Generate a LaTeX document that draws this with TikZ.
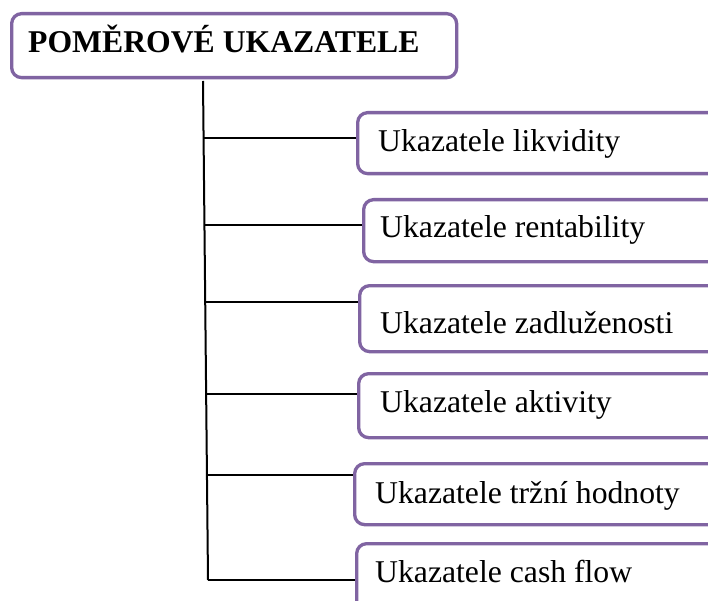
\documentclass[tikz,border=0pt]{standalone}
\usepackage{fontspec}
\setmainfont{Liberation Serif}
\definecolor{boxpurple}{HTML}{8064A2}
\tikzset{
  ubox/.style={draw=boxpurple, line width=3.3pt, rounded corners=10pt, fill=white, inner sep=0pt, anchor=north west},
  lbl/.style={anchor=base west, inner sep=0pt, font=\fontsize{31.7}{36}\selectfont},
  ttl/.style={anchor=base west, inner sep=0pt, font=\fontsize{31.7}{36}\selectfont\bfseries},
  conn/.style={line width=2pt, black}
}
\begin{document}
\begin{tikzpicture}[x=1pt, y=-1pt]
\useasboundingbox (0,0) rectangle (708,601);
\clip (0,0) rectangle (708,601);
\fill[white] (0,0) rectangle (708,601);
% top box
\node[ubox, minimum width=445pt, minimum height=64pt] (top) at (10,12) {};
\node[ttl] (ttl) at (28,53) {POMĚROVÉ UKAZATELE};
% right boxes
\node[ubox, minimum width=380pt, minimum height=61pt] (b1) at (356,111) {};
\node[lbl] (t1) at (378,152) {Ukazatele likvidity};
\node[ubox, minimum width=380pt, minimum height=62pt] (b2) at (362,198) {};
\node[lbl] (t2) at (380,238) {Ukazatele rentability};
\node[ubox, minimum width=380pt, minimum height=66pt] (b3) at (358,284) {};
\node[lbl] (t3) at (380,333) {Ukazatele zadluženosti};
\node[ubox, minimum width=380pt, minimum height=64pt] (b4) at (357,372) {};
\node[lbl] (t4) at (380,412) {Ukazatele aktivity};
\node[ubox, minimum width=380pt, minimum height=61pt] (b5) at (353,462) {};
\node[lbl] (t5) at (375,503) {Ukazatele tržní hodnoty};
\node[ubox, minimum width=380pt, minimum height=80pt] (b6) at (355,542) {};
\node[lbl] (t6) at (375,582) {Ukazatele cash flow};
% spine
\coordinate (s0) at (203,81);
\coordinate (s1) at (204,138);
\coordinate (s2) at (205,225);
\coordinate (s3) at (205.5,302);
\coordinate (s4) at (207,394);
\coordinate (s5) at (207.5,475);
\coordinate (s6) at (208,580);
\draw[conn] (s0) -- (s6);
\draw[conn] (s1) -- (s1 -| b1.west);
\draw[conn] (s2) -- (s2 -| b2.west);
\draw[conn] (s3) -- (s3 -| b3.west);
\draw[conn] (s4) -- (s4 -| b4.west);
\draw[conn] (s5) -- (s5 -| b5.west);
\draw[conn] (s6) -- (s6 -| b6.west);
\end{tikzpicture}
\end{document}
